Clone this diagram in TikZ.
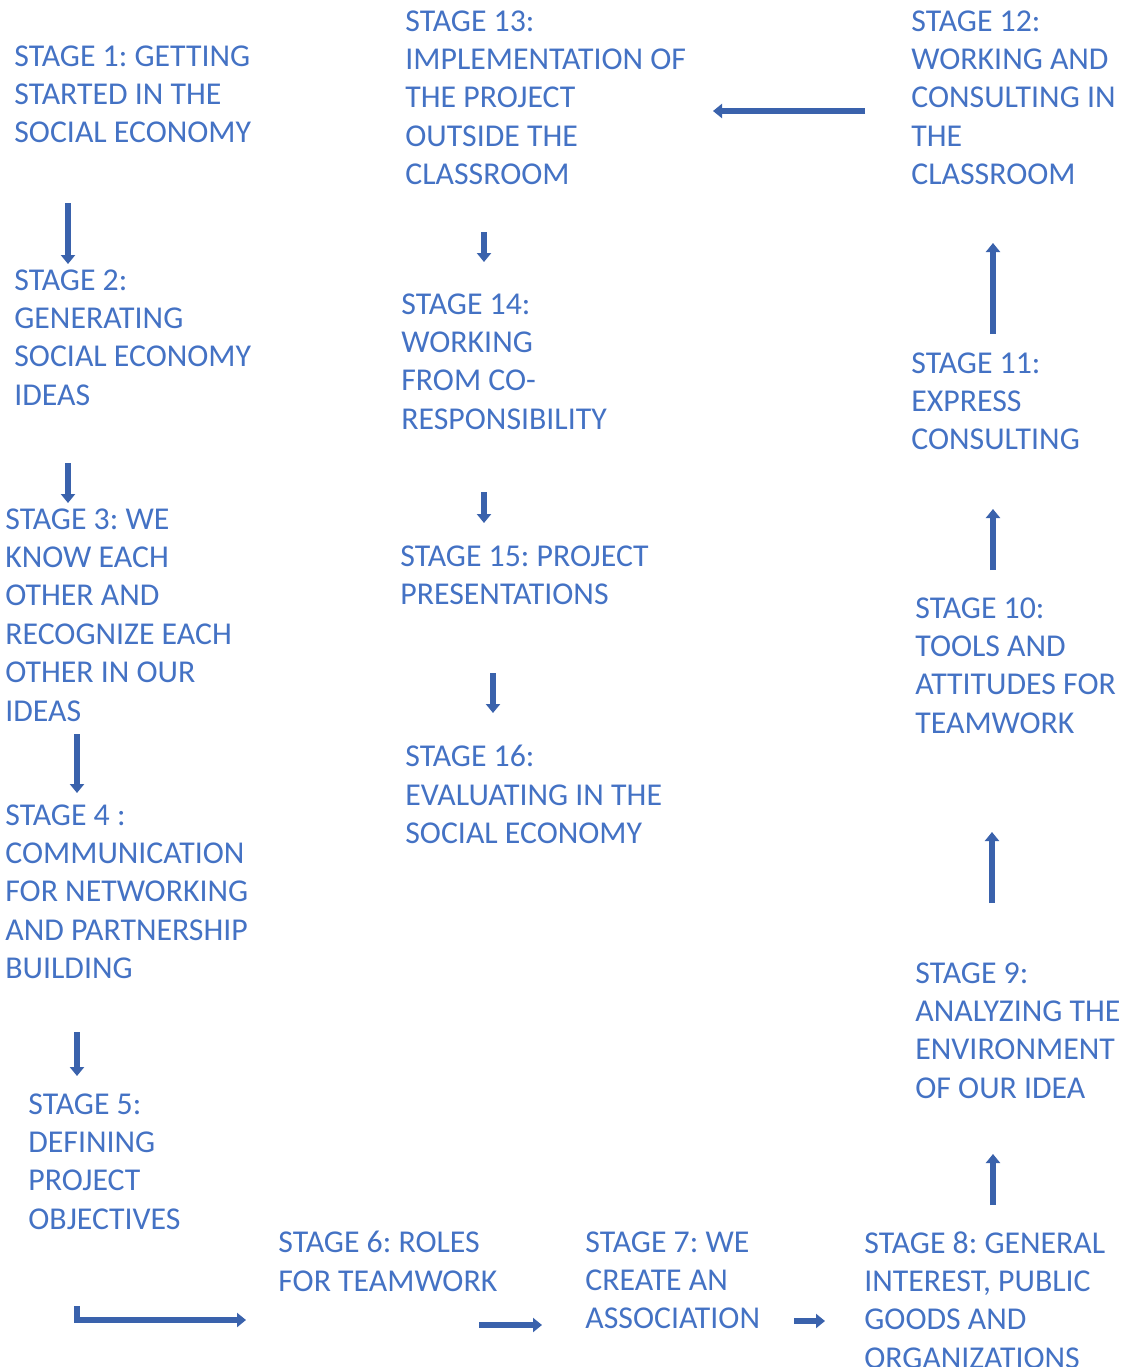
\documentclass[tikz,border=0pt]{standalone}
\usepackage{fontspec}
\setmainfont{Carlito}
\frenchspacing
\usetikzlibrary{arrows.meta, positioning}
\definecolor{stageText}{HTML}{4472C4}
\definecolor{stageArrow}{HTML}{3A62AC}
\tikzset{%
  >={Triangle[width=7pt,length=4.5pt]},
  % Specifications for style of nodes:
    stage/.style = {anchor=north west, inner sep=0pt, align=left, text=stageText,
                    font=\fontsize{15.9}{19.2}\selectfont},
    blockArrow/.style = {->, draw=stageArrow, line width=2.9pt, line join=miter},
}
\begin{document}
\begin{tikzpicture}[x=0.5pt, y=-0.5pt]
  \useasboundingbox (0,0) rectangle (1127,1367);
  \node (stage1)  [stage] at (14,45)   {STAGE 1: GETTING\\STARTED IN THE\\SOCIAL ECONOMY};
  \node (stage2)  [stage] at (14,269)  {STAGE 2:\\GENERATING\\SOCIAL ECONOMY\\IDEAS};
  \node (stage3)  [stage] at (5,508)   {STAGE 3: WE\\KNOW EACH\\OTHER AND\\RECOGNIZE EACH\\OTHER IN OUR\\IDEAS};
  \node (stage4)  [stage] at (5,804)   {STAGE 4 :\\COMMUNICATION\\FOR NETWORKING\\AND PARTNERSHIP\\BUILDING};
  \node (stage5)  [stage] at (28,1093) {STAGE 5:\\DEFINING\\PROJECT\\OBJECTIVES};
  \node (stage6)  [stage] at (278,1231) {STAGE 6: ROLES\\FOR TEAMWORK};
  \node (stage7)  [stage] at (585,1231) {STAGE 7: WE\\CREATE AN\\ASSOCIATION};
  \node (stage8)  [stage] at (864,1231) {STAGE 8: GENERAL\\INTEREST, PUBLIC\\GOODS AND\\ORGANIZATIONS};
  \node (stage9)  [stage] at (915,962) {STAGE 9:\\ANALYZING THE\\ENVIRONMENT\\OF OUR IDEA};
  \node (stage10) [stage] at (915,597) {STAGE 10:\\TOOLS AND\\ATTITUDES FOR\\TEAMWORK};
  \node (stage11) [stage] at (911,352) {STAGE 11:\\EXPRESS\\CONSULTING};
  \node (stage12) [stage] at (911,10)  {STAGE 12:\\WORKING AND\\CONSULTING IN\\THE\\CLASSROOM};
  \node (stage13) [stage] at (405,10)  {STAGE 13:\\IMPLEMENTATION OF\\THE PROJECT\\OUTSIDE THE\\CLASSROOM};
  \node (stage14) [stage] at (401,293) {STAGE 14:\\WORKING\\FROM CO-\\RESPONSIBILITY};
  \node (stage15) [stage] at (400,545) {STAGE 15: PROJECT\\PRESENTATIONS};
  \node (stage16) [stage] at (405,745) {STAGE 16:\\EVALUATING IN THE\\SOCIAL ECONOMY};

  % Free standing arrow ends between the stages
  \coordinate (auxA1) at (68,203);   \coordinate (auxB1) at (68,264);
  \coordinate (auxA2) at (68,463);   \coordinate (auxB2) at (68,503);
  \coordinate (auxA3) at (77,734);   \coordinate (auxB3) at (77,793);
  \coordinate (auxA4) at (77,1032);  \coordinate (auxB4) at (77,1076);
  \coordinate (auxA5) at (77,1306);  \coordinate (auxB5) at (246,1320);
  \coordinate (auxA6) at (479,1325); \coordinate (auxB6) at (542,1325);
  \coordinate (auxA7) at (794,1321); \coordinate (auxB7) at (825,1321);
  \coordinate (auxA8) at (993,1205); \coordinate (auxB8) at (993,1154);
  \coordinate (auxA9) at (992,903);  \coordinate (auxB9) at (992,832);
  \coordinate (auxA10) at (993,570); \coordinate (auxB10) at (993,509);
  \coordinate (auxA11) at (993,334); \coordinate (auxB11) at (993,243);
  \coordinate (auxA12) at (865,111); \coordinate (auxB12) at (713,111);
  \coordinate (auxA13) at (484,232); \coordinate (auxB13) at (484,262);
  \coordinate (auxA14) at (484,492); \coordinate (auxB14) at (484,523);
  \coordinate (auxA15) at (493,673); \coordinate (auxB15) at (493,713);

  % Specification of arrows between stages
  \draw[blockArrow] (auxA1) -- (auxB1);
  \draw[blockArrow] (auxA2) -- (auxB2);
  \draw[blockArrow] (auxA3) -- (auxB3);
  \draw[blockArrow] (auxA4) -- (auxB4);
  \draw[blockArrow] (auxA5) |- (auxB5);
  \draw[blockArrow] (auxA6) -- (auxB6);
  \draw[blockArrow] (auxA7) -- (auxB7);
  \draw[blockArrow] (auxA8) -- (auxB8);
  \draw[blockArrow] (auxA9) -- (auxB9);
  \draw[blockArrow] (auxA10) -- (auxB10);
  \draw[blockArrow] (auxA11) -- (auxB11);
  \draw[blockArrow] (auxA12) -- (auxB12);
  \draw[blockArrow] (auxA13) -- (auxB13);
  \draw[blockArrow] (auxA14) -- (auxB14);
  \draw[blockArrow] (auxA15) -- (auxB15);
\end{tikzpicture}
\end{document}
